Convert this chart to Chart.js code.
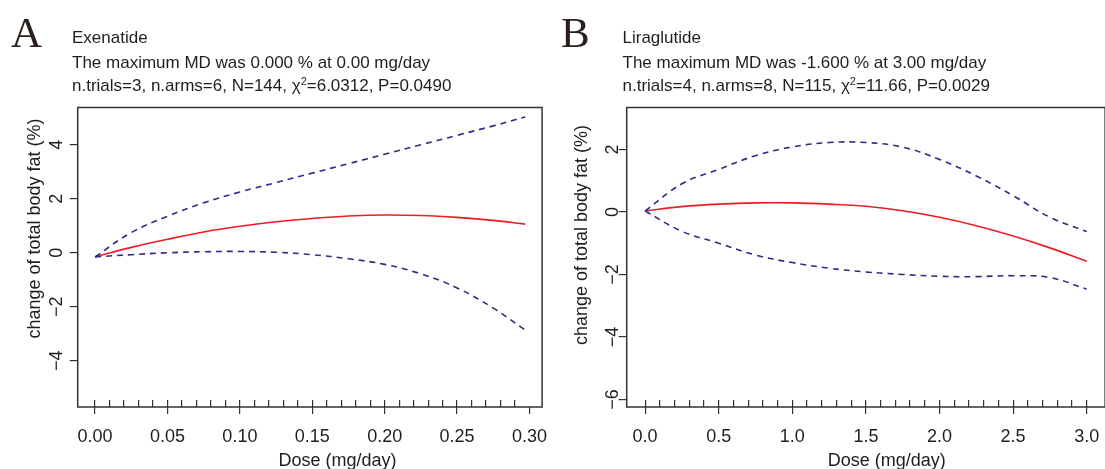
<!DOCTYPE html>
<html>
<head>
<meta charset="utf-8">
<script src="https://cdn.jsdelivr.net/npm/chart.js@4.4.0/dist/chart.umd.min.js"></script>
<style>
  html, body { margin: 0; padding: 0; background: #fff; overflow: hidden; }
  #wrap { position: relative; width: 1105px; height: 469px; overflow: hidden;
          font-family: "Liberation Sans", Arial, sans-serif; color: #1e1e1e; }
  .panel { position: absolute; top: 0; height: 469px; }
  .panel canvas { position: absolute; left: 0; top: 0; }
  .letter { position: absolute; font-family: "Liberation Serif", "Times New Roman", serif;
            font-size: 43px; line-height: 43px; color: #2a1f1a; }
  .line { position: absolute; font-size: 17px; line-height: 17px; white-space: nowrap; }
  sup { font-size: 11px; vertical-align: 6px; line-height: 0; }
</style>
</head>
<body>
<div id="wrap">
  <div class="panel" style="left:0;width:560px;">
    <canvas id="chartA" width="560" height="469"></canvas>
    <div class="letter" style="left:11px;top:10.5px;">A</div>
    <div class="line" style="left:72px;top:29px;">Exenatide</div>
    <div class="line" style="left:72px;top:54px;">The maximum MD was 0.000 % at 0.00 mg/day</div>
    <div class="line" style="left:72px;top:76.5px;">n.trials=3, n.arms=6, N=144, χ<sup>2</sup>=6.0312, P=0.0490</div>
  </div>
  <div class="panel" style="left:560px;width:552px;">
    <canvas id="chartB" width="552" height="469"></canvas>
    <div class="letter" style="left:1px;top:10.5px;">B</div>
    <div class="line" style="left:62.5px;top:29px;">Liraglutide</div>
    <div class="line" style="left:62.5px;top:54px;">The maximum MD was -1.600 % at 3.00 mg/day</div>
    <div class="line" style="left:62.5px;top:76.5px;">n.trials=4, n.arms=8, N=115, χ<sup>2</sup>=11.66, P=0.0029</div>
  </div>
</div>
<script>
// Exenatide (mg/day) - curva y bandas de confianza
const doseExenatide  = [0, 0.025, 0.05, 0.075, 0.10, 0.125, 0.15, 0.175, 0.20, 0.225, 0.25, 0.275, 0.297];
const mdExenatide    = [-0.15, 0.20, 0.50, 0.77, 0.98, 1.15, 1.27, 1.36, 1.40, 1.38, 1.31, 1.20, 1.06];
const upperExenatide = [-0.15, 0.75, 1.35, 1.85, 2.25, 2.60, 2.95, 3.30, 3.65, 4.00, 4.35, 4.70, 5.03];
const lowerExenatide = [-0.15, -0.07, 0.00, 0.04, 0.05, 0.02, -0.07, -0.22, -0.43, -0.78, -1.30, -2.05, -2.86];
const rugExenatide   = [0, 0.29]; // rango de las marcas interiores

// Liraglutide (mg/day)
const doseLiraglutide  = [0, 0.25, 0.5, 0.75, 1.0, 1.25, 1.5, 1.75, 2.0, 2.25, 2.5, 2.75, 3.0];
const mdLiraglutide    = [0.03, 0.17, 0.25, 0.29, 0.29, 0.25, 0.18, 0.04, -0.17, -0.44, -0.77, -1.15, -1.58];
const upperLiraglutide = [0.03, 0.90, 1.36, 1.80, 2.08, 2.22, 2.22, 2.07, 1.68, 1.15, 0.52, -0.17, -0.63];
const lowerLiraglutide = [0.03, -0.62, -1.00, -1.38, -1.62, -1.80, -1.92, -2.00, -2.06, -2.07, -2.04, -2.10, -2.47];
const rugLiraglutide   = [0, 3.0];

const FONT = '"Liberation Sans", Arial, sans-serif';
const INK = '#1e1e1e';
const AXIS = '#333333';
const RED = '#ee1c25';
const NAVY = '#2b2b85';

// marco + titulos de ejes
const frameText = {
    id: 'frameText',
    afterDraw(chart, args, opts) {
        const { ctx, chartArea: a } = chart;
        ctx.save();
        ctx.strokeStyle = AXIS;
        ctx.lineWidth = 1.5;
        ctx.strokeRect(a.left, a.top, a.right - a.left, a.bottom - a.top);
        ctx.fillStyle = INK;
        ctx.font = '18px ' + FONT;
        ctx.textAlign = 'center';
        ctx.textBaseline = 'alphabetic';
        ctx.fillText(opts.xTitle, opts.xTitleX, opts.xTitleY);
        ctx.translate(opts.yTitleX, opts.yTitleY);
        ctx.rotate(-Math.PI / 2);
        ctx.textBaseline = 'middle';
        ctx.fillText(opts.yTitle, 0, 0);
        ctx.restore();
    }
};

const minus = (v) => (v < 0 ? '\u2212' + Math.abs(v) : String(v));

const pts = (xs, ys) => xs.map((x, i) => ({ x: x, y: ys[i] }));

function crearPanel(id, p) {
    const dashed = { borderColor: NAVY, borderWidth: 1.6, borderDash: [6, 5], pointRadius: 0, tension: 0.4, fill: false };
    return new Chart(document.getElementById(id).getContext('2d'), {
        type: 'line',
        data: {
            datasets: [
                Object.assign({ label: 'upper', data: pts(p.dose, p.upper) }, dashed),
                Object.assign({ label: 'lower', data: pts(p.dose, p.lower) }, dashed),
                { label: 'MD', data: pts(p.dose, p.md), borderColor: RED, borderWidth: 1.6, pointRadius: 0, tension: 0.4, fill: false },
            ],
        },
        options: {
            responsive: false,
            animation: false,
            devicePixelRatio: 1,
            layout: { padding: { top: 107.5, right: p.padRight, left: 0, bottom: 0 } },
            plugins: {
                legend: { display: false },
                tooltip: { enabled: false },
                frameText: {
                    xTitle: 'Dose (mg/day)', xTitleX: p.xTitleX, xTitleY: 466,
                    yTitle: 'change of total body fat (%)', yTitleX: p.yTitleX, yTitleY: p.yTitleY,
                },
            },
            scales: {
                // ticks interiores (rug) cada paso menor
                xin: {
                    type: 'linear', position: 'bottom', weight: 0,
                    min: p.xMin, max: p.xMax,
                    afterFit: (s) => { s.height = 0; },
                    afterBuildTicks: (s) => {
                        s.ticks = s.ticks.filter(t => t.value >= p.rug[0] - 1e-9 && t.value <= p.rug[1] + 1e-9);
                    },
                    border: { display: false },
                    grid: { drawOnChartArea: false, tickLength: -7, tickColor: AXIS, lineWidth: 1.2 },
                    ticks: { display: false, stepSize: p.minorStep, includeBounds: false, autoSkip: false },
                },
                x: {
                    type: 'linear', position: 'bottom', weight: 1,
                    min: p.xMin, max: p.xMax,
                    afterFit: (s) => { s.height = 62; },
                    border: { display: false },
                    grid: { drawOnChartArea: false, tickLength: 7, tickColor: AXIS, lineWidth: 1.2 },
                    ticks: {
                        stepSize: p.majorStep, includeBounds: false, autoSkip: false,
                        maxRotation: 0, padding: 12.5, color: INK,
                        font: { size: 18, family: FONT },
                        callback: (v) => v.toFixed(p.decimals),
                    },
                },
                y: {
                    type: 'linear', position: 'left',
                    min: p.yMin, max: p.yMax,
                    afterFit: (s) => { s.width = p.yWidth; },
                    border: { display: false },
                    grid: { drawOnChartArea: false, tickLength: 8, tickColor: AXIS, lineWidth: 1.2 },
                    ticks: {
                        stepSize: 2, includeBounds: false, autoSkip: false,
                        minRotation: 90, maxRotation: 90, crossAlign: 'center',
                        padding: p.yPad, color: INK,
                        font: { size: 18, family: FONT },
                        callback: minus,
                    },
                },
            },
        },
        plugins: [frameText],
    });
}

crearPanel('chartA', {
    dose: doseExenatide, md: mdExenatide, upper: upperExenatide, lower: lowerExenatide, rug: rugExenatide,
    xMin: -0.012, xMax: 0.3087, yMin: -5.71, yMax: 5.38,
    majorStep: 0.05, minorStep: 0.01, decimals: 2,
    yWidth: 77.7, yPad: 2.8, padRight: 1.3,
    xTitleX: 337.4, yTitleX: 35, yTitleY: 228.5,
});

crearPanel('chartB', {
    dose: doseLiraglutide, md: mdLiraglutide, upper: upperLiraglutide, lower: lowerLiraglutide, rug: rugLiraglutide,
    xMin: -0.125, xMax: 3.125, yMin: -6.24, yMax: 3.34,
    majorStep: 0.5, minorStep: 0.1, decimals: 1,
    yWidth: 66.7, yPad: -5, padRight: 3.3,
    xTitleX: 326.7, yTitleX: 22.5, yTitleY: 235,
});
</script>
</body>
</html>
